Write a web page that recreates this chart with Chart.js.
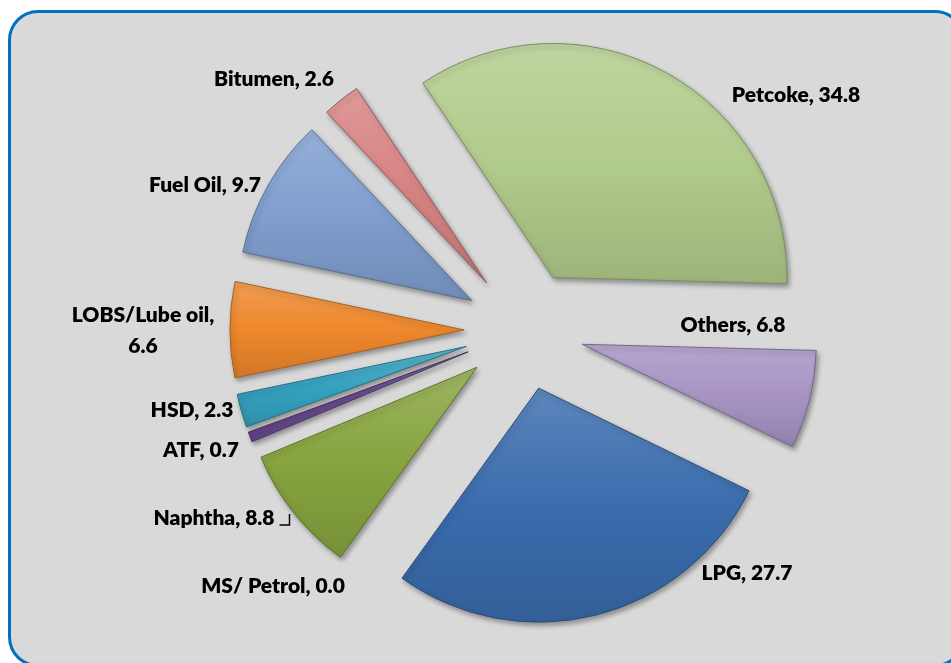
<!DOCTYPE html>
<html>
<head>
<meta charset="utf-8">
<script src="https://cdn.jsdelivr.net/npm/chart.js@4.4.1/dist/chart.umd.min.js"></script>
<style>
html,body{margin:0;padding:0;background:#fff;overflow:hidden;}
#wrap{position:relative;width:951px;height:663px;overflow:hidden;}
#panel{position:absolute;left:8px;top:10px;width:951px;height:651px;border:3px solid #0070c0;border-radius:30px;background:#d9d9d9;}
#c{position:absolute;left:0;top:0;}
</style>
</head>
<body>
<div id="wrap">
<div id="panel"></div>
<canvas id="c" width="951" height="663"></canvas>
</div>
<script>
// product share (%)
const categories = ['LPG','MS/ Petrol','Naphtha','ATF','HSD','LOBS/Lube oil','Fuel Oil','Bitumen','Petcoke','Others'];
const shares = [27.7,0.0,8.8,0.7,2.3,6.6,9.7,2.6,34.8,6.8];

const sliceColors = ['#3a6cad','#c0504d','#87a43f','#6a4c91','#35a2bf','#ee872c','#7f9ecf','#d88383','#b1cb8b','#a693c3'];

const EXPLODE = 60;

// label spots, relative to pie centre
const labelSpots = [
  [223,243],[-251,256],[-310,188],[-323,120],[-332,80],
  [-381,0],[-319,-145],[-250,-251],[272,-235],[209,-5]
];

function shade(hex, amt){
  let r = parseInt(hex.slice(1,3),16), g = parseInt(hex.slice(3,5),16), b = parseInt(hex.slice(5,7),16);
  const t = amt < 0 ? 0 : 255, p = Math.abs(amt);
  r = Math.round(r + (t - r) * p); g = Math.round(g + (t - g) * p); b = Math.round(b + (t - b) * p);
  return 'rgb(' + r + ',' + g + ',' + b + ')';
}

function inRange(a, s, e){
  const T = Math.PI * 2;
  let x = ((a - s) % T + T) % T;
  return x <= (e - s);
}

const explodePlugin = {
  id: 'explode',
  afterDatasetUpdate(chart, args){
    const ctx = chart.ctx;
    args.meta.data.forEach((arc, i) => {
      const mid = (arc.startAngle + arc.endAngle) / 2;
      arc.x += Math.cos(mid) * EXPLODE;
      arc.y += Math.sin(mid) * EXPLODE;
      // vertical extent of the slice for its gradient
      const R = arc.outerRadius;
      let ys = [arc.y, arc.y + Math.sin(arc.startAngle) * R, arc.y + Math.sin(arc.endAngle) * R];
      if (inRange(-Math.PI/2, arc.startAngle, arc.endAngle)) ys.push(arc.y - R);
      if (inRange(Math.PI/2, arc.startAngle, arc.endAngle)) ys.push(arc.y + R);
      const y0 = Math.min(...ys), y1 = Math.max(...ys) + 1;
      const g = ctx.createLinearGradient(0, y0, 0, y1);
      const base = sliceColors[i];
      g.addColorStop(0, shade(base, 0.18));
      g.addColorStop(0.5, base);
      g.addColorStop(1, shade(base, -0.12));
      arc.options = Object.assign({}, arc.options, {backgroundColor: g, borderColor: shade(base, -0.3)});
    });
  },
  beforeDatasetsDraw(chart){
    const ctx = chart.ctx;
    ctx.save();
    ctx.shadowColor = 'rgba(0,0,0,0.35)';
    ctx.shadowBlur = 5;
    ctx.shadowOffsetX = 2;
    ctx.shadowOffsetY = 3;
  },
  afterDatasetsDraw(chart){
    chart.ctx.restore();
  }
};

const labelPlugin = {
  id: 'sliceLabels',
  afterDraw(chart){
    const ctx = chart.ctx;
    const a = chart.chartArea;
    const cx = (a.left + a.right) / 2, cy = (a.top + a.bottom) / 2;
    ctx.save();
    ctx.font = '800 21px Lato';
    ctx.fillStyle = '#000';
    ctx.textAlign = 'center';
    ctx.textBaseline = 'middle';
    categories.forEach((name, i) => {
      const x = cx + labelSpots[i][0], y = cy + labelSpots[i][1];
      const txt = name + ', ' + shares[i].toFixed(1);
      if (name === 'LOBS/Lube oil') {
        ctx.fillText(name + ',', x, y - 15);
        ctx.fillText(shares[i].toFixed(1), x, y + 16);
      } else {
        ctx.fillText(txt, x, y);
      }
      if (name === 'Naphtha') {
        const xe = x + ctx.measureText(txt).width / 2;
        ctx.strokeStyle = '#000';
        ctx.lineWidth = 1.5;
        ctx.beginPath();
        ctx.moveTo(xe + 5, y + 7);
        ctx.lineTo(xe + 15, y + 7);
        ctx.lineTo(xe + 15, y - 4);
        ctx.stroke();
      }
    });
    ctx.restore();
  }
};

new Chart(document.getElementById('c'), {
  type: 'pie',
  data: {
    labels: categories,
    datasets: [{
      data: shares,
      backgroundColor: sliceColors,
      borderWidth: 1
    }]
  },
  options: {
    responsive: false,
    animation: false,
    rotation: 116,
    radius: 234,
    layout: {padding: {left: 224, right: 127, top: 30, bottom: 33}},
    plugins: {legend: {display: false}, tooltip: {enabled: false}}
  },
  plugins: [explodePlugin, labelPlugin]
});
</script>
</body>
</html>
